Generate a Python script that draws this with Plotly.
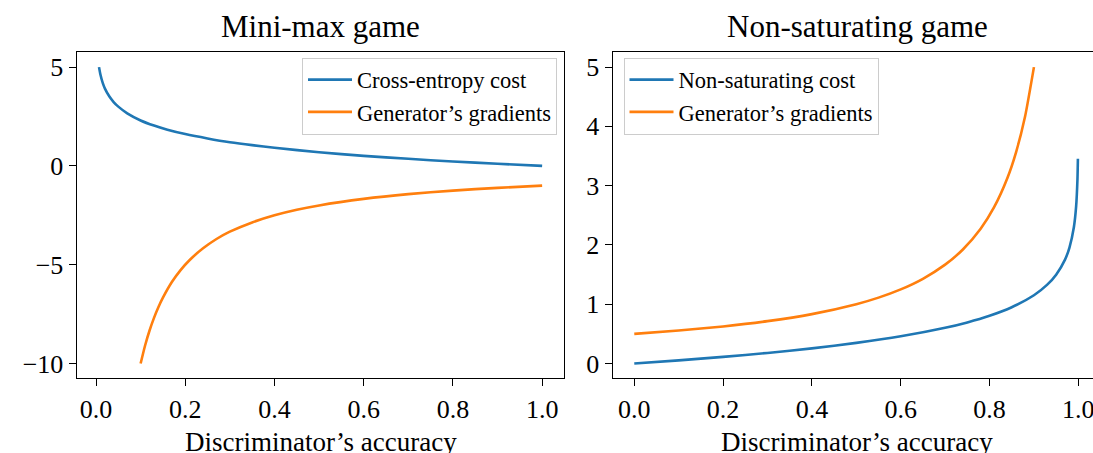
import plotly.graph_objects as go

# Left panel: Mini-max game
mm_cost_x = [0.0067, 0.01, 0.015, 0.02, 0.03, 0.04, 0.05, 0.07, 0.1, 0.13, 0.16, 0.2, 0.25, 0.3,
             0.35, 0.4, 0.5, 0.6, 0.7, 0.8, 0.9, 1.0]
mm_cost_y = [5.0, 4.61, 4.20, 3.91, 3.51, 3.22, 3.00, 2.66, 2.30, 2.04, 1.83, 1.61, 1.39, 1.20,
             1.05, 0.92, 0.69, 0.51, 0.36, 0.22, 0.11, 0.0]
mm_grad_x = [0.1, 0.11, 0.12, 0.13, 0.14, 0.15, 0.17, 0.19, 0.21, 0.24, 0.27, 0.3, 0.35, 0.4,
             0.45, 0.5, 0.6, 0.7, 0.8, 0.9, 1.0]
mm_grad_y = [-10.0, -9.09, -8.33, -7.69, -7.14, -6.67, -5.88, -5.26, -4.76, -4.17, -3.70, -3.33,
             -2.86, -2.50, -2.22, -2.00, -1.67, -1.43, -1.25, -1.11, -1.0]

# Right panel: Non-saturating game
ns_cost_x = [0.0, 0.1, 0.2, 0.3, 0.4, 0.5, 0.6, 0.7, 0.75, 0.8, 0.85, 0.9, 0.93, 0.95, 0.97,
             0.98, 0.99, 0.995, 0.998, 0.999]
ns_cost_y = [0.0, 0.053, 0.112, 0.178, 0.255, 0.347, 0.458, 0.602, 0.693, 0.805, 0.949, 1.151,
             1.330, 1.498, 1.753, 1.956, 2.303, 2.649, 3.107, 3.454]
ns_grad_x = [0.0, 0.1, 0.2, 0.3, 0.4, 0.5, 0.55, 0.6, 0.65, 0.7, 0.74, 0.78, 0.81, 0.84, 0.86,
             0.88, 0.9]
ns_grad_y = [0.5, 0.556, 0.625, 0.714, 0.833, 1.0, 1.111, 1.25, 1.429, 1.667, 1.923, 2.273,
             2.632, 3.125, 3.571, 4.167, 5.0]

x_ticks = [0.0, 0.2, 0.4, 0.6, 0.8, 1.0]
x_tick_text = ["0.0", "0.2", "0.4", "0.6", "0.8", "1.0"]
left_y_ticks = [-10, -5, 0, 5]
right_y_ticks = [0, 1, 2, 3, 4, 5]

BLUE = "#1f77b4"
ORANGE = "#ff7f0e"
FONT = "Liberation Serif"
W, H = 1093, 453

fig = go.Figure()
line_w = 2.6
fig.add_trace(go.Scatter(x=mm_cost_x, y=mm_cost_y, mode="lines", name="Cross-entropy cost",
                         line=dict(color=BLUE, width=line_w, shape="spline", smoothing=0.6),
                         xaxis="x", yaxis="y", legend="legend"))
fig.add_trace(go.Scatter(x=mm_grad_x, y=mm_grad_y, mode="lines", name="Generator’s gradients",
                         line=dict(color=ORANGE, width=line_w, shape="spline", smoothing=0.6),
                         xaxis="x", yaxis="y", legend="legend"))
fig.add_trace(go.Scatter(x=ns_cost_x, y=ns_cost_y, mode="lines", name="Non-saturating cost",
                         line=dict(color=BLUE, width=line_w, shape="spline", smoothing=0.6),
                         xaxis="x2", yaxis="y2", legend="legend2"))
fig.add_trace(go.Scatter(x=ns_grad_x, y=ns_grad_y, mode="lines", name="Generator’s gradients",
                         line=dict(color=ORANGE, width=line_w, shape="spline", smoothing=0.6),
                         xaxis="x2", yaxis="y2", legend="legend2"))

def px_x(p):
    return p / W

def px_y(p):
    return (H - p) / H

ydom = [px_y(378.3), px_y(52.3)]
TICK_SIZE = 26
axis_common = dict(showgrid=False, zeroline=False, showline=True, linecolor="black", linewidth=1.3,
                   ticks="outside", ticklen=7, tickwidth=1.3, tickcolor="black",
                   tickfont=dict(family=FONT, size=TICK_SIZE, color="black"))

legend_common = dict(bgcolor="rgba(255,255,255,0.8)", bordercolor="#cccccc", borderwidth=1,
                     font=dict(family=FONT, size=22.5, color="black"), tracegroupgap=0,
                     itemwidth=44)

# right panel: last tick label drawn as an annotation so it can run off the edge like the original
right_tick_text = x_tick_text[:-1] + [""]

fig.update_layout(
    width=W, height=H, margin=dict(l=0, r=0, t=0, b=0),
    paper_bgcolor="white", plot_bgcolor="white",
    xaxis=dict(domain=[px_x(76.7), px_x(564.3)], range=[-0.0433, 1.0497], anchor="y",
               tickvals=x_ticks, ticktext=x_tick_text, mirror=True, **axis_common),
    yaxis=dict(domain=ydom, range=[-10.75, 5.75], anchor="x", tickvals=left_y_ticks,
               mirror=True, **axis_common),
    xaxis2=dict(domain=[px_x(612.7), 1.0], range=[-0.0486, 1.033], anchor="y2",
                tickvals=x_ticks, ticktext=right_tick_text, mirror=True, **axis_common),
    yaxis2=dict(domain=ydom, range=[-0.25, 5.25], anchor="x2", tickvals=right_y_ticks,
                mirror=False, **axis_common),
    legend=dict(x=px_x(557), y=px_y(57.5), xanchor="right", yanchor="top", **legend_common),
    legend2=dict(x=px_x(623.5), y=px_y(57.5), xanchor="left", yanchor="top", **legend_common),
    showlegend=True,
    annotations=[
        dict(text="Mini-max game", x=px_x(320.5), y=px_y(27), xref="paper", yref="paper",
             xanchor="center", yanchor="middle", showarrow=False,
             font=dict(family=FONT, size=31, color="black")),
        dict(text="Non-saturating game", x=px_x(857), y=px_y(27), xref="paper", yref="paper",
             xanchor="center", yanchor="middle", showarrow=False,
             font=dict(family=FONT, size=31, color="black")),
        dict(text="Discriminator’s accuracy", x=px_x(320.5), y=px_y(442), xref="paper",
             yref="paper", xanchor="center", yanchor="middle", showarrow=False,
             font=dict(family=FONT, size=27, color="black")),
        dict(text="Discriminator’s accuracy", x=px_x(857), y=px_y(442), xref="paper",
             yref="paper", xanchor="center", yanchor="middle", showarrow=False,
             font=dict(family=FONT, size=27, color="black")),
        dict(text=x_tick_text[-1], x=x_ticks[-1], xref="x2", y=px_y(409), yref="paper",
             xanchor="center", yanchor="middle", showarrow=False,
             font=dict(family=FONT, size=TICK_SIZE, color="black")),
    ],
)

fig.write_html("out.html", config={"displayModeBar": False},
               post_script="document.body.style.margin='0';document.body.style.overflow='hidden';")
